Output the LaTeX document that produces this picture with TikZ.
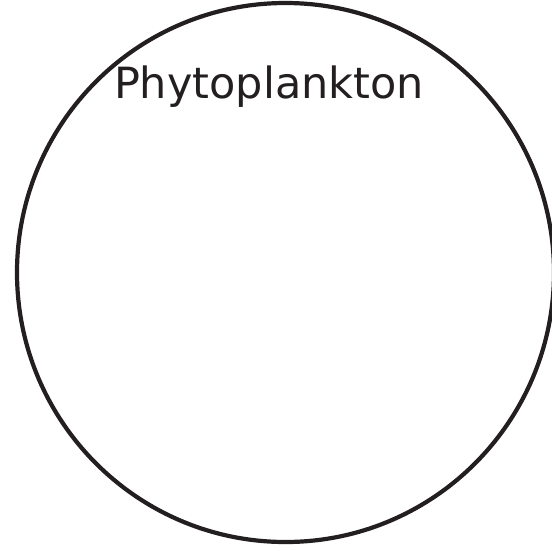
\documentclass[tikz,border=0pt]{standalone}
\usepackage{fontspec}
\setmainfont{DejaVu Sans}
\definecolor{inkdark}{HTML}{231F20}
\begin{document}
\begin{tikzpicture}[x=1pt,y=-1pt,
  cellstyle/.style={draw=inkdark, line width=4.2pt},
  labelstyle/.style={font=\fontsize{43}{50}\selectfont, text=inkdark, anchor=base, inner sep=0pt}]
\useasboundingbox (0,0) rectangle (552,550);
\draw[cellstyle] (285.5,272.5) ellipse [x radius=268.5, y radius=269.5];
\node[labelstyle] (label) at (269,98) {Phytoplankton};
\end{tikzpicture}
\end{document}
